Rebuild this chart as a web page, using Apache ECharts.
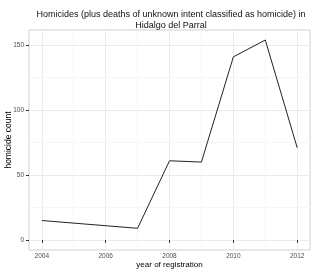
<!DOCTYPE html>
<html><head><meta charset="utf-8">
<script src="https://cdn.jsdelivr.net/npm/echarts@6/dist/echarts.min.js"></script>
<style>html,body{margin:0;padding:0;background:#fff}#c{width:320px;height:274px}</style>
</head><body><div id="c"></div>
<script>
const years = [2004, 2007, 2008, 2009, 2010, 2011, 2012];
const counts = [15, 9, 61, 60, 141, 154, 71];
const xTicks = [2004, 2006, 2008, 2010, 2012];
const xMinor = [2005, 2007, 2009, 2011];
const yTicks = [0, 50, 100, 150];
const yMinor = [25, 75, 125];
const titleText = 'Homicides (plus deaths of unknown intent classified as homicide) in\nHidalgo del Parral';

const chart = echarts.init(document.getElementById('c'), null, {renderer: 'canvas'});
const font = 'Liberation Sans, Arial, sans-serif';
const minorLines = xMinor.map(v => ({xAxis: v})).concat(yMinor.map(v => ({yAxis: v})));
chart.setOption({
  animation: false,
  backgroundColor: '#fff',
  graphic: [{
    type: 'text', x: 171, y: 9.5, silent: true,
    style: {text: titleText, align: 'center', verticalAlign: 'top',
      font: '9px ' + font, fill: '#111', lineHeight: 11}
  }],
  grid: {left: 29, right: 10, top: 30, bottom: 24, show: true, borderColor: '#d0d0d0', borderWidth: 1,
    backgroundColor: '#fff', outerBoundsMode: 'none', containLabel: false},
  xAxis: {
    type: 'value', min: 2003.6, max: 2012.4,
    name: 'year of registration', nameLocation: 'middle', nameGap: 11, nameMoveOverlap: false,
    nameTextStyle: {fontFamily: font, fontSize: 8, color: '#000'},
    axisLine: {show: false},
    axisTick: {show: true, customValues: xTicks, length: 3, lineStyle: {color: '#333'}},
    axisLabel: {customValues: xTicks, formatter: v => String(v), fontFamily: font, fontSize: 6.5, color: '#4d4d4d', margin: 3},
    splitLine: {show: true, lineStyle: {color: '#ebebeb', width: 1}}
  },
  yAxis: {
    type: 'value', min: -7.7, max: 161.7,
    name: 'homicide count', nameLocation: 'middle', nameGap: 16, nameRotate: 90, nameMoveOverlap: false,
    nameTextStyle: {fontFamily: font, fontSize: 8.5, color: '#000'},
    axisLine: {show: false},
    axisTick: {show: true, customValues: yTicks, length: 3, lineStyle: {color: '#333'}},
    axisLabel: {customValues: yTicks, formatter: v => String(v), fontFamily: font, fontSize: 6.5, color: '#4d4d4d', margin: 5},
    splitLine: {show: true, lineStyle: {color: '#ebebeb', width: 1}}
  },
  series: [{
    type: 'line', data: years.map((y, i) => [y, counts[i]]),
    showSymbol: false, symbol: 'none',
    lineStyle: {color: '#222', width: 1},
    markLine: {silent: true, symbol: 'none', label: {show: false},
      lineStyle: {color: '#f6f6f6', width: 1, type: 'solid'}, data: minorLines, z: 0},
    z: 3
  }]
});
</script></body></html>
